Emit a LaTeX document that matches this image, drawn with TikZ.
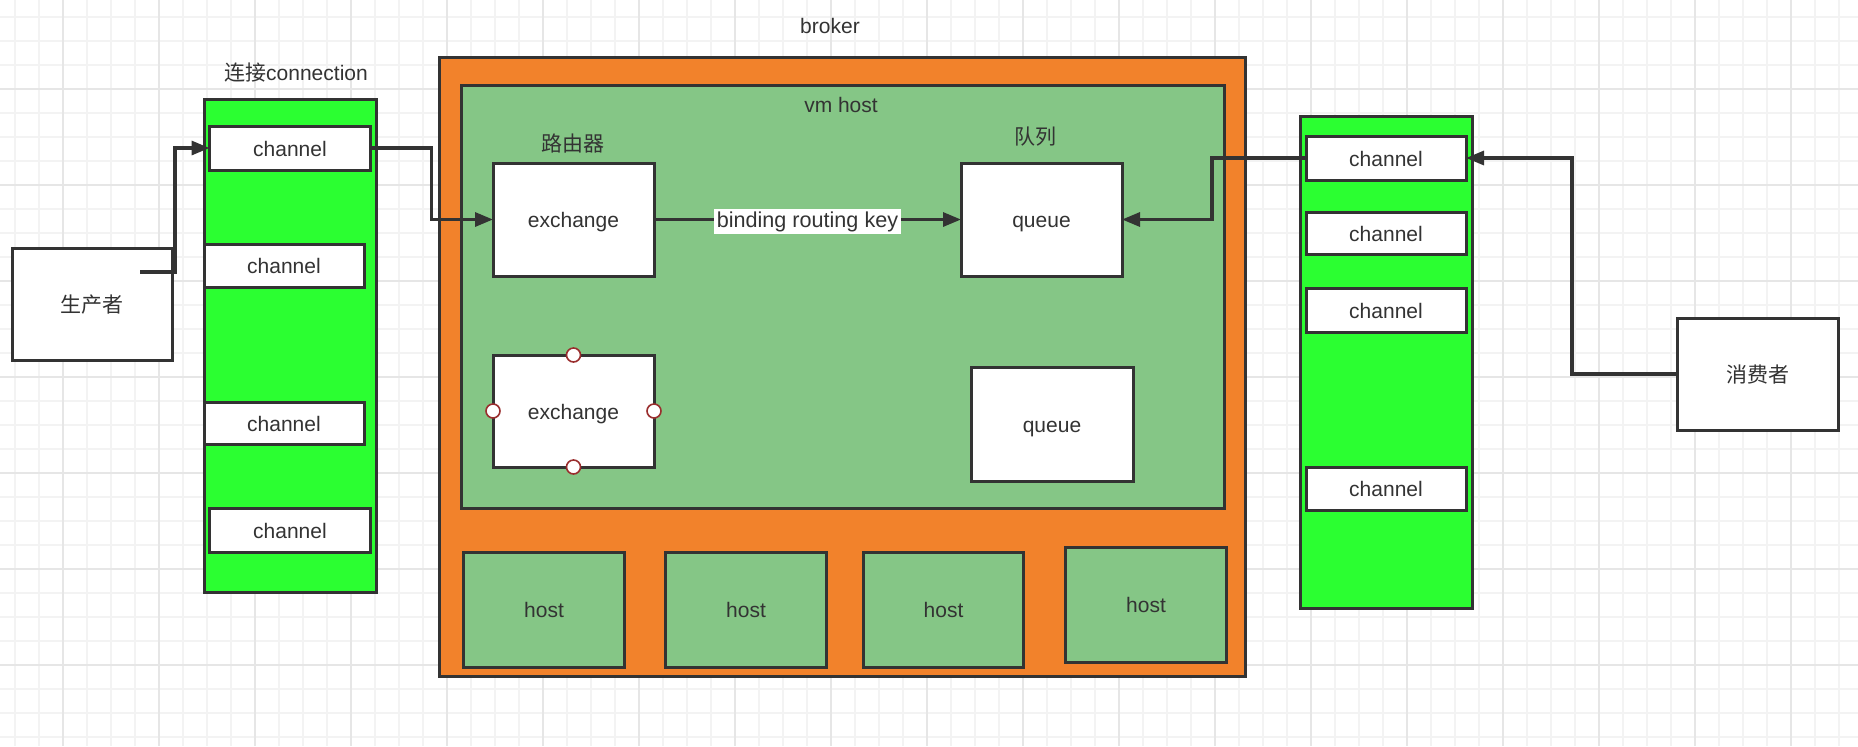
\documentclass[tikz,border=0pt]{standalone}
\usepackage{fontspec}
\setmainfont{Liberation Sans}
\newfontfamily\cjk{Noto Sans CJK SC}
\usetikzlibrary{arrows.meta}
\definecolor{strokec}{HTML}{333333}
\definecolor{orangec}{HTML}{F2822B}
\definecolor{vmgreen}{HTML}{85C686}
\definecolor{brightgreen}{HTML}{2BFF31}
\definecolor{gridminor}{HTML}{F3F3F3}
\definecolor{gridmajor}{HTML}{E6E6E6}
\definecolor{pointc}{HTML}{9A2E2E}
\tikzset{
  box/.style={draw=strokec, line width=1.5pt, inner sep=0pt, outer sep=0pt, text=strokec, text height=0.9em, text depth=0.1em},
  whitebox/.style={box, fill=white},
  chan/.style={whitebox, minimum width=80pt},
  hostbox/.style={box, fill=vmgreen, minimum width=80.25pt, minimum height=57.5pt},
  conn/.style={draw=strokec, line width=1.6pt, -{Triangle[length=9pt,width=7pt]}},
  lbl/.style={text=strokec, inner sep=0pt},
  minorline/.style={draw=gridminor, line width=0.8pt},
  majorline/.style={draw=gridmajor, line width=1pt},
  cpoint/.style={draw=pointc, fill=white, line width=0.8pt, circle, minimum size=7pt, inner sep=0pt},
  every node/.style={font=\fontsize{10.5}{12}\selectfont}
}
\begin{document}
\begin{tikzpicture}[x=0.5pt,y=-0.5pt]
\useasboundingbox (0,0) rectangle (1858,746);
\fill[white] (0,0) rectangle (1858,746);
% grid
\foreach \x in {15,39,...,1858} \draw[minorline] (\x,0) -- (\x,746);
\foreach \y in {17,41,...,746} \draw[minorline] (0,\y) -- (1858,\y);
\foreach \x in {63,159,...,1858} \draw[majorline] (\x,0) -- (\x,746);
\foreach \y in {89,185,...,746} \draw[majorline] (0,\y) -- (1858,\y);

% producer
\node[whitebox, minimum width=80pt, minimum height=56pt] (prod) at (92,304) {\cjk 生产者};

% left connection
\node[box, fill=brightgreen, minimum width=86pt, minimum height=246.5pt] (lconn) at (290,345.5) {};
\node[lbl] (lconnlbl) at (296,73) {{\cjk 连接}connection};
\node[chan, minimum width=80.5pt, minimum height=22pt] (lc1) at (290,148) {channel};
\node[chan, minimum height=21.5pt] (lc2) at (284,265.5) {channel};
\node[chan, minimum height=21pt] (lc3) at (284,423) {channel};
\node[chan, minimum width=80.5pt, minimum height=22pt] (lc4) at (290,530) {channel};

% broker
\node[box, fill=orangec, minimum width=402.75pt, minimum height=309.25pt] (broker) at (842.25,366.75) {};
\node[lbl] (brokerlbl) at (830,26) {broker};
\node[box, fill=vmgreen, minimum width=381.75pt, minimum height=211.5pt] (vmhost) at (842.75,296.5) {};
\node[lbl] (vmlbl) at (841,105) {vm host};
\node[lbl] (exlbl) at (573,143) {\cjk 路由器};
\node[lbl] (qlbl) at (1035,137) {\cjk 队列};
\node[whitebox, minimum width=80.5pt, minimum height=56.5pt] (ex1) at (573.5,219.5) {exchange};
\node[whitebox, minimum width=80.5pt, minimum height=56.5pt] (q1) at (1041.5,219.5) {queue};
\node[whitebox, minimum width=80.5pt, minimum height=56pt] (ex2) at (573.5,411) {exchange};
\node[whitebox, minimum width=81pt, minimum height=57pt] (q2) at (1052,424) {queue};
\node[cpoint] (ex2n) at (ex2.north) {};
\node[cpoint] (ex2s) at (ex2.south) {};
\node[cpoint] (ex2w) at (ex2.west) {};
\node[cpoint] (ex2e) at (ex2.east) {};

% hosts
\node[hostbox] (h1) at (544,609.5) {host};
\node[hostbox] (h2) at (746,609.5) {host};
\node[hostbox] (h3) at (943.5,609.5) {host};
\node[hostbox] (h4) at (1146,604.5) {host};

% right connection
\node[box, fill=brightgreen, minimum width=86pt, minimum height=246pt] (rconn) at (1386,362) {};
\node[chan, minimum height=22pt] (rc1) at (1386,158) {channel};
\node[chan, minimum height=21pt] (rc2) at (1386,233) {channel};
\node[chan, minimum height=22pt] (rc3) at (1386,310) {channel};
\node[chan, minimum height=21.5pt] (rc4) at (1386,488.5) {channel};

% consumer
\node[whitebox, minimum width=80.75pt, minimum height=56pt] (cons) at (1757.75,374) {\cjk 消费者};

% connectors
\coordinate (p0) at (140,272);
\draw[conn] (p0) -- ++(35,0) |- (lc1.west);
\draw[conn] (lc1.east) -- ++(61,0) |- (ex1.west);
\draw[conn] (ex1.east) -- node[fill=white, text=strokec, inner sep=1.2pt, yshift=-1pt, font=\fontsize{10.8}{12}\selectfont] (bind) {binding routing key} (q1.west);
\draw[conn] (cons.west) -- ++(-105,0) |- (rc1.east);
\draw[conn] (rc1.west) -- ++(-94,0) |- (q1.east);
\end{tikzpicture}
\end{document}
